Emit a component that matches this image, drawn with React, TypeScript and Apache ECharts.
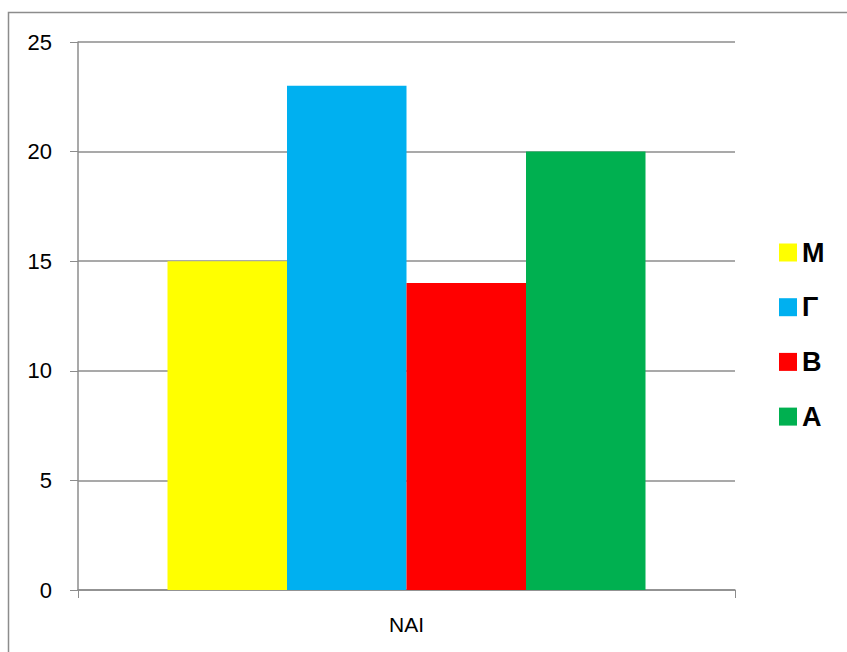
import React, { useEffect, useRef } from "react";
import * as echarts from "echarts";

const categories = ["ΝΑΙ"];
const seriesNames = ["Μ", "Γ", "Β", "Α"];
const seriesValues = [[15], [23], [14], [20]];
const seriesColors = ["#FFFF00", "#00B0F0", "#FF0000", "#00B050"];
const yTicks = { min: 0, max: 25, interval: 5 };

const gridColor = "#8C8C8C";
const font = "'Liberation Sans', Arial, sans-serif";

export default function App() {
  const ref = useRef<HTMLDivElement>(null);

  useEffect(() => {
    if (!ref.current) return;
    const chart = echarts.init(ref.current, null, { renderer: "svg" });
    chart.setOption({
      animation: false,
      backgroundColor: "#FFFFFF",
      graphic: [
        {
          type: "rect",
          shape: { x: 8.5, y: 12.5, width: 900, height: 700 },
          style: { fill: "none", stroke: "#8C8C8C", lineWidth: 1.5 },
          silent: true,
          z: -1,
        },
      ],
      grid: { left: 78, right: 112, top: 42, bottom: 62 },
      legend: {
        orient: "vertical",
        left: 779,
        top: 238,
        padding: 0,
        itemWidth: 18,
        itemHeight: 18,
        itemGap: 25.7,
        icon: "rect",
        textStyle: {
          fontFamily: font,
          fontSize: 27,
          lineHeight: 26,
          fontWeight: "bold",
          color: "#000",
          padding: [3, 0, 0, 0],
        },
        data: seriesNames,
      },
      xAxis: {
        type: "category",
        data: categories,
        axisLine: { lineStyle: { color: gridColor, width: 1.5 } },
        axisTick: { show: true, length: 8, lineStyle: { color: gridColor } },
        axisLabel: { fontFamily: font, fontSize: 21, color: "#000", margin: 24 },
      },
      yAxis: {
        type: "value",
        min: yTicks.min,
        max: yTicks.max,
        interval: yTicks.interval,
        axisLine: { show: true, lineStyle: { color: gridColor, width: 1.5 } },
        axisTick: { show: true, length: 8, lineStyle: { color: gridColor } },
        splitLine: { lineStyle: { color: gridColor, width: 1.5 } },
        axisLabel: { fontFamily: font, fontSize: 22, color: "#000", margin: 26 },
      },
      series: seriesNames.map((name, i) => ({
        name,
        type: "bar",
        data: seriesValues[i],
        barWidth: 119.5,
        barGap: "0%",
        itemStyle: { color: seriesColors[i] },
      })),
    });
    return () => chart.dispose();
  }, []);

  return (
    <div
      ref={ref}
      style={{ position: "absolute", left: 0, top: 0, width: 847, height: 652 }}
    />
  );
}
